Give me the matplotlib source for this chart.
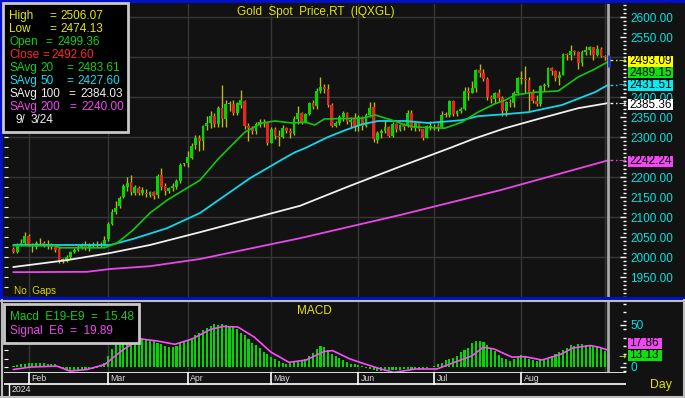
import numpy as np
import pandas as pd
import matplotlib
matplotlib.use("Agg")
import matplotlib.pyplot as plt
from matplotlib.patches import Rectangle
from matplotlib.lines import Line2D

# ---------------- data ----------------
dates = pd.bdate_range("2024-01-26", "2024-09-03")

opens = [2019, 2012, 2031, 2036, 2052, 2031, 2024, 2035, 2035, 2031, 2032, 2026, 2020, 1992, 1992, 2000,
         2012, 2017, 2024, 2027, 2025, 2032, 2029, 2029, 2033, 2044, 2083, 2112, 2127, 2151, 2176, 2188,
         2160, 2172, 2160, 2160, 2155, 2162, 2156, 2205, 2178, 2164, 2172, 2176, 2190, 2232, 2235, 2248,
         2280, 2298, 2290, 2327, 2336, 2352, 2333, 2373, 2345, 2383, 2382, 2361, 2380, 2391, 2327, 2322,
         2316, 2333, 2337, 2336, 2286, 2320, 2303, 2301, 2323, 2314, 2308, 2346, 2360, 2336, 2358, 2385,
         2377, 2415, 2425, 2421, 2379, 2328, 2334, 2350, 2360, 2338, 2344, 2327, 2350, 2327, 2355, 2375,
         2293, 2310, 2316, 2325, 2303, 2332, 2318, 2329, 2328, 2360, 2322, 2334, 2319, 2298, 2327, 2322,
         2330, 2326, 2356, 2356, 2390, 2358, 2364, 2371, 2414, 2411, 2422, 2467, 2459, 2445, 2400, 2396,
         2409, 2397, 2364, 2387, 2384, 2410, 2447, 2446, 2443, 2410, 2390, 2382, 2427, 2431, 2472, 2465,
         2447, 2456, 2507, 2504, 2514, 2512, 2484, 2512, 2518, 2524, 2504, 2521, 2503, 2499.36]
highs = [2024, 2034, 2046, 2062, 2058, 2036, 2040, 2048, 2040, 2042, 2035, 2030, 2024, 1998, 2005, 2015,
         2023, 2030, 2034, 2040, 2036, 2037, 2040, 2037, 2052, 2088, 2120, 2141, 2152, 2182, 2200, 2205,
         2180, 2178, 2174, 2170, 2166, 2165, 2208, 2222, 2185, 2176, 2184, 2196, 2234, 2236, 2265, 2285,
         2305, 2304, 2330, 2353, 2365, 2361, 2378, 2431, 2392, 2390, 2392, 2388, 2417, 2393, 2335, 2328,
         2338, 2346, 2345, 2338, 2326, 2326, 2318, 2330, 2326, 2322, 2352, 2378, 2362, 2360, 2387, 2392,
         2422, 2450, 2433, 2432, 2385, 2340, 2354, 2365, 2362, 2351, 2360, 2355, 2353, 2360, 2388, 2387,
         2315, 2320, 2342, 2328, 2338, 2335, 2333, 2335, 2368, 2368, 2337, 2336, 2321, 2330, 2340, 2333,
         2335, 2365, 2363, 2392, 2393, 2368, 2374, 2424, 2424, 2439, 2470, 2483, 2470, 2449, 2406, 2412,
         2420, 2402, 2390, 2395, 2414, 2450, 2465, 2477, 2450, 2420, 2405, 2431, 2436, 2475, 2476, 2467,
         2464, 2509, 2510, 2531, 2518, 2515, 2517, 2528, 2528, 2526, 2530, 2524, 2506, 2506.07]
lows = [2009, 2010, 2027, 2030, 2028, 2012, 2020, 2030, 2026, 2021, 2019, 2013, 1985, 1984, 1988, 1996,
        2010, 2014, 2020, 2018, 2016, 2025, 2024, 2025, 2028, 2040, 2080, 2108, 2122, 2148, 2165, 2156,
        2155, 2155, 2155, 2150, 2150, 2146, 2148, 2168, 2155, 2160, 2165, 2170, 2185, 2228, 2226, 2244,
        2270, 2264, 2268, 2318, 2323, 2325, 2325, 2326, 2324, 2366, 2355, 2355, 2372, 2320, 2291, 2308,
        2307, 2325, 2325, 2280, 2284, 2296, 2277, 2298, 2310, 2298, 2305, 2332, 2332, 2334, 2354, 2370,
        2370, 2410, 2410, 2374, 2325, 2325, 2330, 2340, 2333, 2326, 2315, 2315, 2318, 2325, 2350, 2287,
        2286, 2298, 2310, 2300, 2299, 2312, 2315, 2318, 2325, 2317, 2316, 2314, 2293, 2297, 2318, 2318,
        2316, 2322, 2350, 2350, 2353, 2352, 2360, 2367, 2393, 2409, 2412, 2450, 2440, 2393, 2384, 2385,
        2390, 2353, 2353, 2376, 2376, 2404, 2433, 2410, 2364, 2385, 2378, 2378, 2416, 2425, 2455, 2440,
        2431, 2455, 2493, 2492, 2505, 2471, 2478, 2505, 2505, 2493, 2502, 2500, 2493, 2474.13]
closes = [2012, 2031, 2036, 2052, 2030, 2027, 2035, 2034, 2030, 2033, 2025, 2018, 1992, 1992, 2001, 2012,
          2017, 2025, 2028, 2025, 2032, 2028, 2030, 2033, 2043, 2082, 2112, 2122, 2148, 2177, 2184, 2162,
          2176, 2160, 2168, 2158, 2162, 2152, 2202, 2176, 2165, 2172, 2178, 2190, 2230, 2233, 2251, 2278,
          2297, 2290, 2327, 2336, 2352, 2333, 2372, 2344, 2383, 2383, 2361, 2385, 2392, 2327, 2322, 2316,
          2333, 2337, 2335, 2286, 2320, 2303, 2301, 2323, 2314, 2309, 2346, 2360, 2336, 2358, 2385, 2376,
          2415, 2425, 2421, 2379, 2327, 2334, 2350, 2360, 2338, 2343, 2327, 2350, 2327, 2355, 2372, 2294,
          2311, 2316, 2325, 2303, 2333, 2319, 2329, 2326, 2360, 2322, 2334, 2319, 2298, 2327, 2326, 2326,
          2324, 2356, 2356, 2390, 2358, 2364, 2371, 2414, 2411, 2422, 2467, 2459, 2445, 2400, 2396, 2409,
          2397, 2364, 2387, 2384, 2410, 2447, 2446, 2443, 2410, 2390, 2382, 2427, 2431, 2472, 2465, 2447,
          2456, 2507, 2504, 2514, 2512, 2484, 2512, 2518, 2524, 2504, 2521, 2503, 2500, 2492.60]

# moving averages (bar position, value)
ma20_x = [0, 11, 12.3, 24, 27.3, 31.5, 36, 40.5, 49.2, 54, 61, 65.5, 69, 73.5, 77, 79.5, 82, 92, 95.4,
          99.9, 103.3, 105.9, 113.8, 118.3, 122.5, 127, 129.7, 132.3, 137.6, 143.7, 149, 153.4, 157]
ma20_v = [2028, 2028, 2023, 2023, 2035, 2067, 2110, 2142, 2192, 2245, 2312, 2335, 2340, 2335, 2337, 2330,
          2345, 2347, 2355, 2342, 2330, 2325, 2322, 2337, 2362, 2383, 2392, 2405, 2412, 2415, 2450, 2470, 2489]
ma50_x = [0, 25.5, 31.5, 40.5, 49.2, 62.4, 71.1, 74.3, 76.9, 83, 87.5, 92, 96.2, 103.3, 109.4, 118.3,
          122.5, 129.7, 135.8, 144.7, 153.4, 157]
ma50_v = [2030, 2030, 2045, 2072, 2110, 2197, 2245, 2262, 2272, 2300, 2317, 2332, 2340, 2340, 2335, 2342,
          2352, 2357, 2362, 2380, 2412, 2431]
ma100_x = [0, 14, 25.5, 36, 49.2, 62.4, 75.6, 88.8, 102, 115, 121, 129.7, 138.4, 149, 157]
ma100_v = [1975, 1992, 2010, 2030, 2062, 2095, 2128, 2178, 2226, 2272, 2294, 2322, 2345, 2372, 2385]
ma200_x = [0, 19.4, 25.5, 36, 49.2, 75.6, 102, 128.4, 157]
ma200_v = [1962, 1963, 1970, 1977, 1995, 2047, 2105, 2167, 2242]

macd = [1, 2, 3, 4, 4.5, 5, 5, 4.5, 4.5, 4, 4, 3.5, 1, -2, -4, -5, -5, -4.5, -4, -3.5, -3, -2, -1, 1, 5,
        13, 21, 28, 34, 38, 40, 39, 38, 37, 35, 33, 31, 31, 29, 27, 25, 24, 24, 25, 28, 30, 32, 35, 38, 41,
        44, 47, 49, 51, 50, 51, 50, 49, 48, 45, 41, 38, 33, 29, 26, 22, 18, 15, 12, 9, 7, 5, 4, 5, 6, 7, 8,
        10, 13, 17, 21, 25, 24, 20, 16, 13, 11, 8, 6, 4, 3, 2, 1, -1, -3, -4, -5, -5, -5, -4, -4, -4, -4,
        -3, -3, -3, -3, -4, -3, -1, 0, 1, 3, 5, 8, 9, 11, 13, 18, 20, 23, 28, 31, 31, 30, 26, 22, 19, 14,
        11, 9, 7, 10, 13, 14, 13, 10, 8, 7, 8, 10, 11, 13, 15, 18, 20, 23, 26, 25, 27, 27, 26, 26, 25, 24,
        22, 19, 15.48]
signal_x = [0, 4.6, 11.5, 14.9, 19.4, 24.1, 28.6, 33.4, 37.9, 42.6, 47.2, 51.8, 55.3, 59.2, 63.5, 67.9,
            72.7, 77.2, 81.9, 84.2, 88.8, 93.3, 96.9, 100.4, 106.1, 111.7, 116.5, 121, 123.9, 126.8, 131.5,
            134.9, 139.4, 144.2, 147.6, 152.2, 154.5, 157]
signal_v = [-3, 0, 1, -5, -3, 3, 19.5, 33.5, 31, 27, 33.5, 44.4, 48.3, 47.6, 35.7, 17.8, 5.5, 8.3, 18.3,
            19.5, 9.5, 2.7, -2.4, -6.5, -2.4, -2.4, 5.8, 13.3, 23.5, 21.4, 11.7, 12.3, 8.3, 14.7, 22.6,
            25.5, 23.5, 19.89]

legend_labels = ["SAvg 20", "SAvg 50", "SAvg 100", "SAvg 200"]
legend_values = [2483.61, 2427.60, 2384.03, 2240.00]
tag_values = [2493.09, 2489.15, 2431.51, 2385.36, 2242.24]
macd_legend = [15.48, 19.89]
macd_tags = [17.86, 13.13]
price_ticks = [1950, 2000, 2050, 2100, 2150, 2200, 2300, 2350, 2400, 2550, 2600]
months = ["Feb", "Mar", "Apr", "May", "Jun", "Jul", "Aug"]

# ---------------- layout helpers ----------------
W, H = 685, 398
BG = "#121212"
FONT = "Liberation Sans"
plt.rcParams["font.family"] = [FONT, "DejaVu Sans"]

fig = plt.figure(figsize=(W / 100, H / 100), dpi=100, facecolor=BG)


def rect(x0, y0, x1, y1):
    return [x0 / W, 1 - y1 / H, (x1 - x0) / W, (y1 - y0) / H]


def ftext(x, y, s, color, size=8.5, ha="left", va="center", **kw):
    return fig.text(x / W, 1 - y / H, s, color=color, fontsize=size, ha=ha, va=va, **kw)


def fline(x0, y0, x1, y1, color, lw=1.0):
    fig.add_artist(Line2D([x0 / W, x1 / W], [1 - y0 / H, 1 - y1 / H], color=color, lw=lw,
                          transform=fig.transFigure))


def frect(x0, y0, x1, y1, fc, ec="none", lw=0, z=5):
    fig.add_artist(Rectangle((x0 / W, 1 - y1 / H), (x1 - x0) / W, (y1 - y0) / H, facecolor=fc,
                             edgecolor=ec, lw=lw, transform=fig.transFigure, zorder=z))


n = len(closes)
idx = np.arange(n)
XL = (-2.5, 161.6)
month_pos = [i for i in range(1, n) if dates[i].month != dates[i - 1].month]

GREEN, RED, OLIVE, WICK = "#00d800", "#ee2020", "#9a9a18", "#b8b81c"
GRID = "#363636"

# ---------------- main price panel ----------------
ax = fig.add_axes(rect(4, 4, 626, 297))
ax.set_facecolor(BG)
ax.set_xlim(*XL)
ax.set_ylim(1900, 2632.5)
for s in ax.spines.values():
    s.set_visible(False)
for p in range(2000, 2601, 100):
    ax.axhline(p, color=GRID, lw=1, zorder=0)
for m in month_pos:
    ax.axvline(m, color=GRID, lw=1, zorder=0)

o = np.array(opens, float); c = np.array(closes, float)
h = np.array(highs, float); l = np.array(lows, float)
body_col = [GREEN if cc - oo > 1.5 else (RED if oo - cc > 1.5 else OLIVE) for oo, cc in zip(o, c)]
ax.vlines(idx[:-1], l[:-1], h[:-1], color=WICK, lw=1.0, zorder=2)
ax.bar(idx, np.maximum(np.abs(c - o), 2.0), bottom=np.minimum(o, c), width=0.74, color=body_col,
       linewidth=0, zorder=3)

ax.plot(ma200_x, ma200_v, color="#e848e8", lw=1.3, zorder=4)
ax.plot(ma100_x, ma100_v, color="#f0f0f0", lw=1.3, zorder=4)
ax.plot(ma50_x, ma50_v, color="#10d8e8", lw=1.3, zorder=4)
ax.plot(ma20_x, ma20_v, color="#10c810", lw=1.2, zorder=4)

# cursor line and highlighted last bar
ax.axvline(n - 1 - 0.15, color="#a8a8a8", lw=2, zorder=5)
ax.vlines(n - 1, l[-1], h[-1], color="#2030d0", lw=2, zorder=6)

# arrows to the value tags
for val, col in [(closes[-1], "#c8ff20"), (ma50_v[-1], "#10d8e8"), (ma100_v[-1], "#f0f0f0"),
                 (ma200_v[-1], "#e848e8")]:
    ax.plot([n - 0.6, n + 1.3], [val, val], color=col, lw=1, ls=(0, (2, 2)), zorder=6)
    ax.text(n + 1.5, val, "→", color=col, fontsize=6.5, va="center", ha="left", zorder=6,
            family="DejaVu Sans")

ax.yaxis.tick_right()
ax.set_yticks(price_ticks)
ax.set_yticklabels([f"{t:.2f}" for t in price_ticks])
ax.set_yticks(range(1900, 2631, 10), minor=True)
ax.tick_params(axis="y", which="both", direction="in", right=True, left=False, colors="white",
               labelcolor="#00e4e4", labelsize=8.5, pad=3, width=1)
ax.tick_params(axis="y", which="major", length=4)
ax.tick_params(axis="y", which="minor", length=2)
ax.set_xticks([])
sec = ax.secondary_yaxis("left")
sec.set_yticks(range(1900, 2631, 25))
sec.tick_params(direction="in", length=3, colors="white", labelleft=False)
sec.spines["left"].set_visible(False)

ftext(316, 12, "Gold  Spot  Price,RT  (IQXGL)", "#e4e400", size=8.5, ha="center")
ftext(14, 291, "No  Gaps", "#d8d800", size=7.2)

# ---------------- MACD panel ----------------
ax2 = fig.add_axes(rect(4, 302, 626, 372))
ax2.set_facecolor(BG)
ax2.set_xlim(*XL)
ax2.set_ylim(-6, 77.4)
for s in ax2.spines.values():
    s.set_visible(False)
for m in month_pos:
    ax2.axvline(m, color=GRID, lw=1, zorder=0)
hist_col = [GREEN] * (n - 1) + ["#e040e0"]
ax2.bar(idx, macd, width=0.55, color=hist_col, linewidth=0, zorder=2)
ax2.plot(signal_x, signal_v, color="#ff48ff", lw=1.2, zorder=3)
ax2.axvline(n - 1 - 0.15, color="#a8a8a8", lw=2, zorder=4)
ax2.text(n + 1.5, 13.13, "→", color="#c8ff20", fontsize=6.5, va="center", ha="left",
         family="DejaVu Sans")
ax2.yaxis.tick_right()
ax2.set_yticks([0, 50])
ax2.set_yticklabels(["0", "50"])
ax2.set_yticks(range(-5, 76, 10), minor=True)
ax2.tick_params(axis="y", which="both", direction="in", right=True, left=False, colors="white",
                labelcolor="#00e4e4", labelsize=8.5, pad=3, width=1)
ax2.tick_params(axis="y", which="major", length=4)
ax2.tick_params(axis="y", which="minor", length=2)
ax2.set_xticks([])
sec2 = ax2.secondary_yaxis("left")
sec2.set_yticks(range(0, 31, 10))
sec2.tick_params(direction="in", length=3, colors="white", labelleft=False)
sec2.spines["left"].set_visible(False)
ftext(314, 311, "MACD", "#e4e400", size=8.5, ha="center")

# ---------------- date axis ----------------
ax3 = fig.add_axes(rect(4, 372, 626, 396))
ax3.set_facecolor(BG)
ax3.set_xlim(*XL)
ax3.set_ylim(0, 24)
ax3.axis("off")
ax3.axhline(24, color="white", lw=1.2)
ax3.plot(XL, [12, 12], color="white", lw=1.2)
for m, name in zip(month_pos, months):
    ax3.plot([m, m], [12, 24], color="white", lw=1.2)
    ax3.text(m + 0.6, 17.5, name, color="#d8d8d8", fontsize=6.3, va="center", ha="left")
ax3.plot([-1.3, -1.3], [0, 12], color="white", lw=1.0)
ax3.text(-0.6, 6, "2024", color="#e0e0e0", fontsize=6.3, va="center", ha="left")
ftext(661, 385, "Day", "#e4e400", size=8.8, ha="center")

# ---------------- frame lines ----------------
fline(0, 1, W, 1, "#0010c8", lw=2.2)
fline(1, 0, 1, 298, "#0010c8", lw=2.2)
fline(0, 297.5, W, 297.5, "#0010c8", lw=2.2)
fline(0, 300.5, W, 300.5, "#bdbdbd", lw=1.5)
fline(1.5, 300, 1.5, 398, "#bdbdbd", lw=1.5)
fline(0, 397, W, 397, "#bdbdbd", lw=1.5)
fline(684, 300, 684, 398, "#bdbdbd", lw=1.5)

# ---------------- value tags ----------------
tag_y = [61, 72, 85, 104, 161]
tag_bg = ["#ffff00", "#10e010", "#10e8f0", "#ffffff", "#f048f0"]
for v, y, bg in zip(tag_values, tag_y, tag_bg):
    frect(628, y - 5.5, 673, y + 5.5, bg, z=6)
    ftext(629, y + 0.5, f"{v:.2f}", "black", size=8.5, zorder=7)
for v, y, bg in zip(macd_tags, [343, 355], ["#f048f0", "#10e010"]):
    frect(628, y - 5.5, 662, y + 5.5, bg, z=6)
    ftext(629, y + 0.5, f"{v:.2f}", "black", size=8.5, zorder=7)

# ---------------- legend box ----------------
frect(3, 3, 128, 132, "black", ec="#c8c8c8", lw=2, z=8)
YEL, GRN, CYA, WHT, MAG = "#e8e800", "#10d010", "#10e0f0", "#f0f0f0", "#f048f0"
rows = [
    ("High", 49, 60, highs[-1], YEL, 16),
    ("Low", 49, 60, lows[-1], YEL, 29),
    ("Open", 45, 57, opens[-1], GRN, 42),
    ("Close", 42, 51, closes[-1], "#ff2828", 55),
]
for lab, xe, xv, val, col, y in rows:
    ftext(9, y, lab, col, zorder=9)
    ftext(xe, y, "=", col, zorder=9)
    ftext(xv, y, f"{val:.2f}", col, zorder=9)
for (lab, val), col, y, xe, xv in zip(zip(legend_labels, legend_values), [GRN, CYA, WHT, MAG],
                                      [68, 81, 94, 107], [66, 66, 68, 69], [77, 77, 80, 81]):
    a, b = lab.split()
    ftext(9, y, a, col, zorder=9)
    ftext(40, y, b, col, zorder=9)
    ftext(xe, y, "=", col, zorder=9)
    ftext(xv, y, f"{val:.2f}", col, zorder=9)
ftext(15, 120, "9/", WHT, zorder=9)
ftext(31, 120, "3/24", WHT, zorder=9)

# MACD legend
frect(4, 304, 139, 343, "black", ec="#c8c8c8", lw=2, z=8)
ftext(10, 317, f"Macd  E19-E9  =  {macd_legend[0]:.2f}", GRN, zorder=9)
ftext(10, 331, f"Signal  E6  =  {macd_legend[1]:.2f}", MAG, zorder=9)

fig.savefig("out.png", dpi=100, facecolor=BG)
